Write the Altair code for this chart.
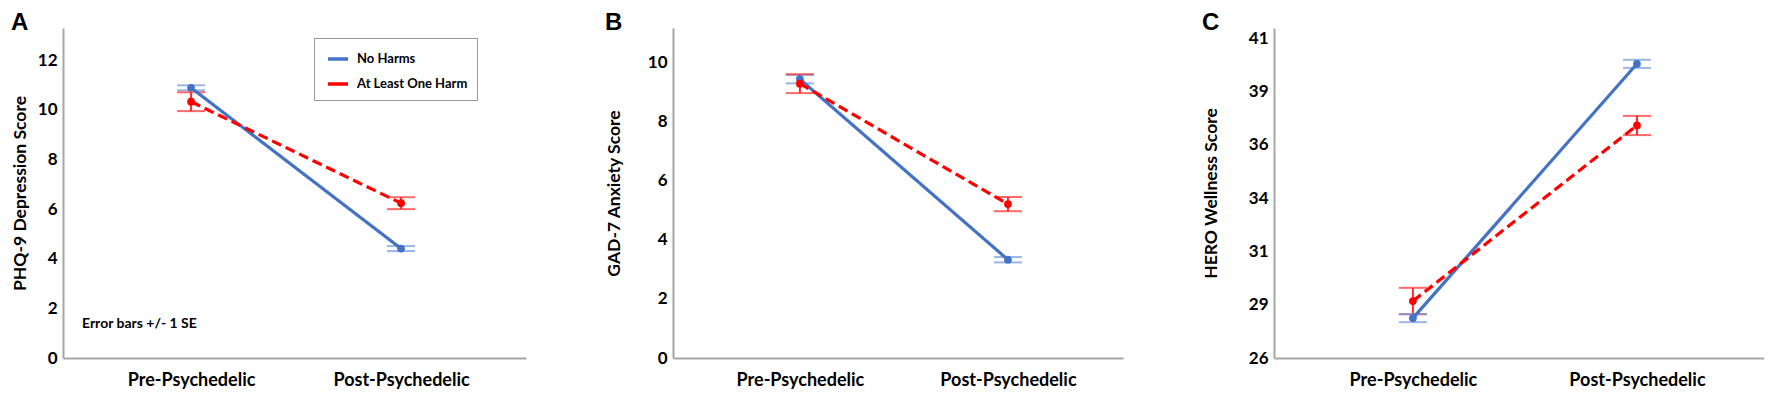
import altair as alt
import pandas as pd

# ---------------- data ----------------
times = ["Pre-Psychedelic", "Post-Psychedelic"]
groups = ["No Harms", "At Least One Harm"]

# Panel A: PHQ-9 depression
phq_no_mean = [10.89, 4.41]
phq_no_se = [0.10, 0.10]
phq_harm_mean = [10.33, 6.24]
phq_harm_se = [0.38, 0.24]
phq_ticks = [0, 2, 4, 6, 8, 10, 12]

# Panel B: GAD-7 anxiety
gad_no_mean = [9.42, 3.32]
gad_no_se = [0.14, 0.09]
gad_harm_mean = [9.27, 5.20]
gad_harm_se = [0.32, 0.24]
gad_ticks = [0, 2, 4, 6, 8, 10]

# Panel C: HERO wellness
hero_no_mean = [27.87, 39.79]
hero_no_se = [0.19, 0.19]
hero_harm_mean = [28.67, 36.90]
hero_harm_se = [0.62, 0.45]
hero_ticks = [26, 28.5, 31, 33.5, 36, 38.5, 41]

note_text = ["Error bars +/- 1 SE"]

# ---------------- styling ----------------
line_colors = ["#4472C4", "#FF0000"]
cap_colors = ["#6C95DA", "#FF2A2A"]
FONT = "Lato"


def build_df(no_mean, no_se, harm_mean, harm_se):
    rows = []
    for g, means, ses, cc in [(groups[0], no_mean, no_se, cap_colors[0]),
                              (groups[1], harm_mean, harm_se, cap_colors[1])]:
        for i, t in enumerate(times):
            rows.append({"group": g, "time": t, "t": i, "mean": means[i],
                         "lo": means[i] - ses[i], "hi": means[i] + ses[i],
                         "capcol": cc})
    return pd.DataFrame(rows)


label_expr = "datum.value == 0 ? '%s' : '%s'" % (times[0], times[1])


def panel(letter, ytitle, df, ydomain, yticks, xdomain, width, height,
          title_pad, legend=None, note=False):
    base = alt.Chart(df)
    x = alt.X("t:Q", scale=alt.Scale(domain=xdomain, nice=False, zero=False),
              axis=alt.Axis(values=[0, 1], labelExpr=label_expr, title=None,
                            labelPadding=13, labelFontSize=18))
    yscale = alt.Scale(domain=ydomain, nice=False, zero=False)
    yaxis = alt.Axis(values=yticks, format="d", title=ytitle,
                     titlePadding=title_pad, labelPadding=6,
                     minExtent=26, maxExtent=26)
    color = alt.Color("group:N", scale=alt.Scale(domain=groups, range=line_colors),
                      legend=legend)
    dash = alt.StrokeDash("group:N",
                          scale=alt.Scale(domain=groups, range=[[1, 0], [10, 5]]),
                          legend=legend)
    order_sort = alt.Order("t:Q")

    line = base.mark_line(strokeWidth=3.2).encode(
        x=x, y=alt.Y("mean:Q", scale=yscale, axis=yaxis),
        color=color, strokeDash=dash, order=order_sort)
    stem = base.mark_rule(strokeWidth=2).encode(
        x="t:Q", y="lo:Q", y2="hi:Q",
        color=alt.Color("capcol:N", scale=None))
    cap_lo = base.mark_tick(size=28, thickness=2, orient="horizontal").encode(
        x="t:Q", y="lo:Q", color=alt.Color("capcol:N", scale=None))
    cap_hi = base.mark_tick(size=28, thickness=2, orient="horizontal").encode(
        x="t:Q", y="hi:Q", color=alt.Color("capcol:N", scale=None))
    pts = base.mark_circle(size=60, opacity=1).encode(
        x="t:Q", y="mean:Q",
        color=alt.Color("group:N", scale=alt.Scale(domain=groups, range=line_colors),
                        legend=None))
    layers = [stem, cap_lo, cap_hi, line, pts]
    if note:
        txt = alt.Chart(pd.DataFrame({"note": note_text})).mark_text(
            align="left", baseline="middle", font=FONT, fontSize=14,
            fontWeight="bold", color="black").encode(
            text="note:N", x=alt.value(19), y=alt.value(296))
        layers.append(txt)
    return alt.layer(*layers).properties(
        width=width, height=height,
        title=alt.TitleParams(text=letter, anchor="start", font="Liberation Sans",
                              fontSize=24, fontWeight="bold", color="black",
                              offset=-7, frame="bounds"),
    ).resolve_scale(color="independent")


legendA = alt.Legend(orient="none", legendX=251, legendY=10, title=None,
                     direction="vertical", symbolType="stroke", symbolSize=400,
                     symbolStrokeWidth=3.5, symbolOffset=3, labelFont=FONT,
                     labelFontSize=13, labelFontWeight="bold", labelColor="black",
                     strokeColor="#9a9a9a", fillColor="white", padding=9,
                     rowPadding=6, labelOffset=7)

pA = panel("A", "PHQ-9 Depression Score",
           build_df(phq_no_mean, phq_no_se, phq_harm_mean, phq_harm_se),
           [0, 13.3], phq_ticks, [-0.61, 1.595], 463, 330, 8,
           legend=legendA, note=True)
pB = panel("B", "GAD-7 Anxiety Score",
           build_df(gad_no_mean, gad_no_se, gad_harm_mean, gad_harm_se),
           [0, 11.15], gad_ticks, [-0.61, 1.553], 450, 330, 24)
pC = panel("C", "HERO Wellness Score",
           build_df(hero_no_mean, hero_no_se, hero_harm_mean, hero_harm_se),
           [26, 41.47], hero_ticks, [-0.62, 1.567], 490, 330, 28)

chart = alt.hconcat(pA, pB, pC, spacing=79).resolve_scale(
    color="independent", strokeDash="independent"
).properties(padding={"left": 3, "top": 3, "right": 0, "bottom": 0}
).configure_view(stroke=None).configure_axis(
    grid=False, ticks=False, domainColor="#a6a6a6", domainWidth=2,
    labelFont=FONT, labelFontWeight="bold", labelFontSize=17, labelColor="black",
    titleFont=FONT, titleFontWeight="bold", titleFontSize=17.5, titleColor="black",
)

chart.save("out.html", embed_options={"renderer": "svg", "actions": False})
